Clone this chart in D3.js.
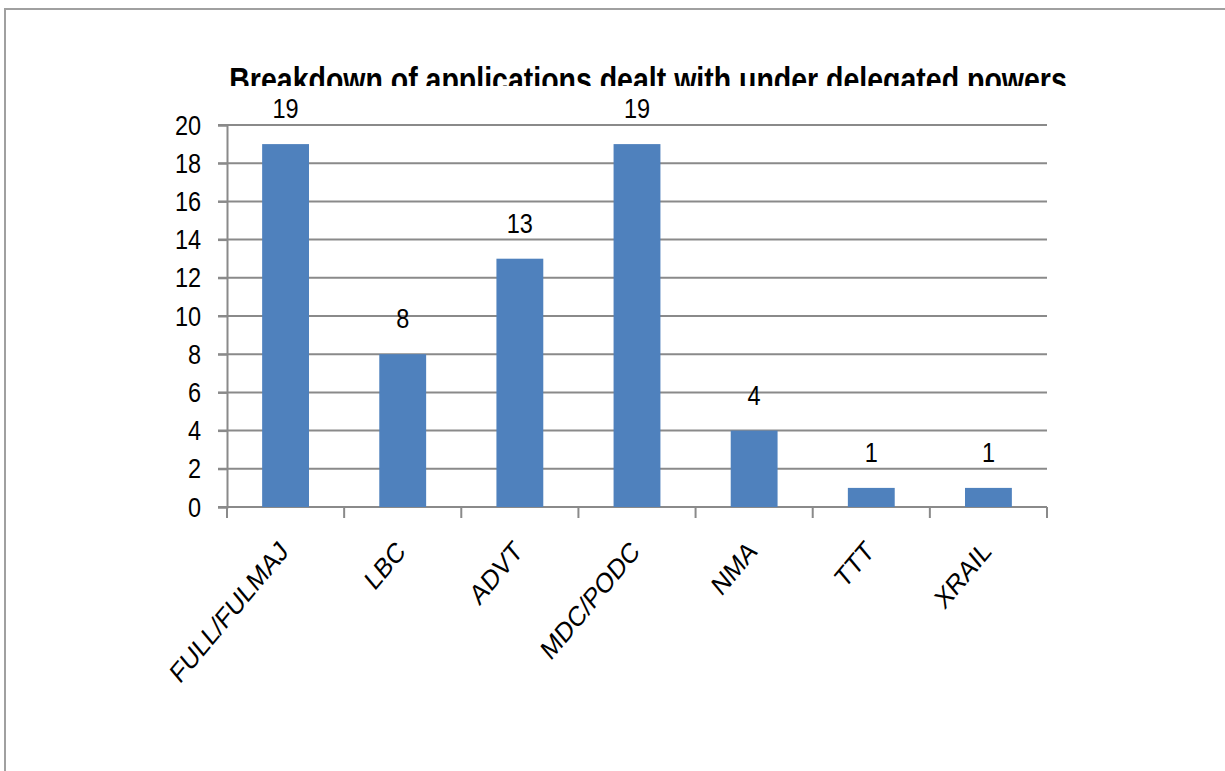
<!DOCTYPE html>
<html>
<head>
<meta charset="utf-8">
<script src="https://cdn.jsdelivr.net/npm/d3@7"></script>
<style>
  body { margin: 0; background: #fff; }
  text { font-family: "Liberation Sans", Arial, sans-serif; }
</style>
</head>
<body>
<div id="chart"></div>
<script>
// data
var categories = ["FULL/FULMAJ", "LBC", "ADVT", "MDC/PODC", "NMA", "TTT", "XRAIL"];
var counts = [19, 8, 13, 19, 4, 1, 1];
var yTicks = [0, 2, 4, 6, 8, 10, 12, 14, 16, 18, 20];
var title = "Breakdown of applications dealt with under delegated powers";

var svgWidth = 1225;
var svgHeight = 771;

var margin = { top: 125, right: 178, bottom: 264, left: 227 };
var width = svgWidth - margin.left - margin.right;
var height = svgHeight - margin.top - margin.bottom;

// the original shot is stretched tall, so text gets squeezed the same way
var stretch = "scale(1,1.2)";
var fontSize = "23.5px";

var svg = d3.select("#chart")
    .append("svg")
    .attr("width", svgWidth)
    .attr("height", svgHeight);

// outer chart border (runs off the right and bottom of the shot)
svg.append("rect")
    .attr("x", 5)
    .attr("y", 9)
    .attr("width", 1300)
    .attr("height", 900)
    .attr("fill", "none")
    .attr("stroke", "#a0a0a0")
    .attr("stroke-width", 2);

// title is clipped at its bottom like in the original
svg.append("clipPath")
    .attr("id", "titleClip")
    .append("rect")
    .attr("x", 0).attr("y", 0)
    .attr("width", svgWidth).attr("height", 86);

svg.append("g")
    .attr("clip-path", "url(#titleClip)")
    .append("text")
    .attr("transform", `translate(648, 92) ${stretch}`)
    .attr("text-anchor", "middle")
    .style("font-size", "28.5px")
    .style("font-weight", "bold")
    .text(title);

var chartGroup = svg.append("g")
    .attr("transform", `translate(${margin.left}, ${margin.top})`);

var xScale = d3.scaleBand()
    .domain(categories)
    .range([0, width])
    .paddingInner(0.6)
    .paddingOuter(0.3);

var yScale = d3.scaleLinear()
    .domain([0, 20])
    .range([height, 0]);

// gridlines
chartGroup.append("g")
    .selectAll("line")
    .data(yTicks)
    .enter()
    .append("line")
    .attr("x1", -9)
    .attr("x2", width)
    .attr("y1", d => yScale(d))
    .attr("y2", d => yScale(d))
    .attr("stroke", "#8a8a8a")
    .attr("stroke-width", 2);

// y axis
var leftAxis = d3.axisLeft(yScale).tickValues(yTicks).tickSize(9).tickPadding(17);
var yAxis = chartGroup.append("g").call(leftAxis);
yAxis.select(".domain").attr("stroke", "#8a8a8a").attr("stroke-width", 2);
yAxis.selectAll(".tick line").attr("stroke", "#8a8a8a").attr("stroke-width", 2);
yAxis.selectAll("text")
    .attr("transform", stretch)
    .style("font-size", fontSize)
    .style("font-family", "Liberation Sans, Arial, sans-serif")
    .attr("fill", "#000");

// x axis with ticks between the categories
var step = xScale.step();
var xb = chartGroup.append("g")
    .attr("transform", `translate(0, ${height})`);
xb.append("line")
    .attr("x1", 0).attr("x2", width)
    .attr("stroke", "#8a8a8a").attr("stroke-width", 2);
xb.selectAll(".xtick")
    .data(d3.range(categories.length + 1))
    .enter()
    .append("line")
    .attr("x1", i => i * step)
    .attr("x2", i => i * step)
    .attr("y1", 0)
    .attr("y2", 11)
    .attr("stroke", "#8a8a8a")
    .attr("stroke-width", 2);

xb.selectAll(".xlabel")
    .data(categories)
    .enter()
    .append("text")
    .attr("text-anchor", "end")
    .attr("transform", d => `translate(${xScale(d) + xScale.bandwidth() / 2 + 4}, 46) ${stretch} rotate(-45)`)
    .style("font-size", fontSize)
    .text(d => d);

// bars
var bars = categories.map((c, i) => ({ cat: c, val: counts[i] }));

chartGroup.selectAll(".bar")
    .data(bars)
    .enter()
    .append("rect")
    .attr("x", d => xScale(d.cat))
    .attr("y", d => yScale(d.val))
    .attr("width", xScale.bandwidth())
    .attr("height", d => height - yScale(d.val))
    .attr("fill", "#4f81bd");

// value labels
chartGroup.selectAll(".val")
    .data(bars)
    .enter()
    .append("text")
    .attr("transform", d => `translate(${xScale(d.cat) + xScale.bandwidth() / 2}, ${yScale(d.val) - 26}) ${stretch}`)
    .attr("text-anchor", "middle")
    .style("font-size", fontSize)
    .text(d => d.val);
</script>
</body>
</html>
